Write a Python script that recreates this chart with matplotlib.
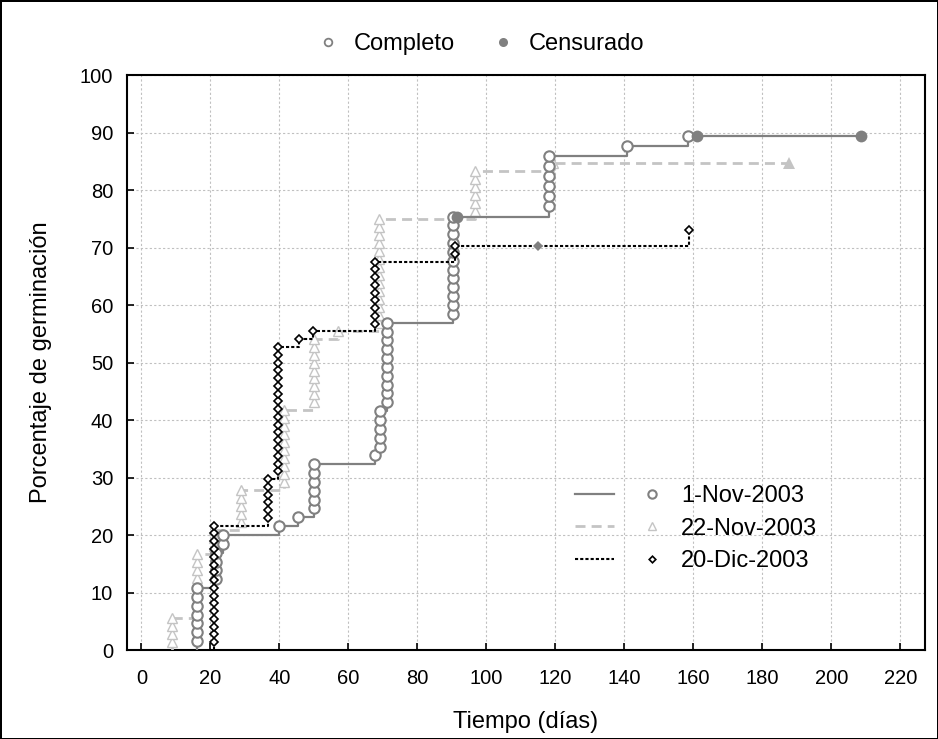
import matplotlib
matplotlib.use("Agg")
import matplotlib.pyplot as plt
from matplotlib.lines import Line2D
from matplotlib.legend_handler import HandlerTuple
import numpy as np

plt.rcParams['font.family'] = ['Liberation Sans', 'DejaVu Sans']

# germination times (days) with number of seeds at each time, censored times, seeds sown
n_nov1 = 65
nov1_t = [16, 21.5, 23.5, 40, 45.5, 50, 67.7, 69.1, 71.1, 90.2, 118.1, 140.6, 158.4]
nov1_d = [7, 4, 2, 1, 1, 6, 1, 5, 10, 12, 6, 1, 1]
nov1_cen_t = [91.4, 160.9, 208.5]
nov1_cen_c = [2, 3, 3]

n_nov22 = 72
nov22_t = [8.8, 16.2, 21, 28.8, 41.2, 49.9, 57, 68.9, 96.7, 119.3]
nov22_d = [4, 8, 3, 5, 10, 9, 1, 14, 6, 1]
nov22_cen_t = [187.6]
nov22_cen_c = [11]

n_dic20 = 74
dic20_t = [21, 36.7, 39.6, 45.7, 49.7, 67.7, 90.9, 158.6]
dic20_d = [16, 6, 17, 1, 1, 9, 2, 1]
dic20_cen_t = [114.8]
dic20_cen_c = [11]

labels = ["1-Nov-2003", "22-Nov-2003", "20-Dic-2003"]


def km(n, ev_t, ev_d, cen_t, cen_c):
    # product-limit estimate, as cumulative percentage
    ev = dict(zip(ev_t, ev_d))
    cen = dict(zip(cen_t, cen_c))
    times = sorted(set(ev_t) | set(cen_t))
    risk = n
    surv = 1.0
    step_x, step_y = [ev_t[0]], [0.0]
    mk_x, mk_y, cx, cy = [], [], [], []
    for t in times:
        d = ev.get(t, 0)
        c = cen.get(t, 0)
        if d:
            for j in range(1, d + 1):
                mk_x.append(t)
                mk_y.append(100 * (1 - surv * (1 - j / risk)))
            surv *= 1 - d / risk
        step_x.append(t)
        step_y.append(100 * (1 - surv))
        if c:
            cx.append(t)
            cy.append(100 * (1 - surv))
        risk -= d + c
    return step_x, step_y, mk_x, mk_y, cx, cy


fig = plt.figure(figsize=(9.38, 7.39), dpi=100)
fig.patch.set_edgecolor("black")
fig.patch.set_linewidth(2)
ax = fig.add_axes([0.1354, 0.1204, 0.8507, 0.7781])

styles = {
    "nov1": dict(color="#808080", ls="-", lw=1.6, marker="o", ms=7.5, mew=1.5, cms=8.5),
    "nov22": dict(color="#c4c4c4", ls=(0, (3.6, 2.2)), lw=2.0, marker="^", ms=6.5, mew=1.0, cms=8.5),
    "dic20": dict(color="black", ls=(0, (1.5, 1.0)), lw=1.5, marker="D", ms=4.2, mew=1.2, cms=5.0),
}
series = {
    "nov22": (n_nov22, nov22_t, nov22_d, nov22_cen_t, nov22_cen_c),
    "nov1": (n_nov1, nov1_t, nov1_d, nov1_cen_t, nov1_cen_c),
    "dic20": (n_dic20, dic20_t, dic20_d, dic20_cen_t, dic20_cen_c),
}
cen_color = {"nov1": "#808080", "nov22": "#c4c4c4", "dic20": "#808080"}

z = 3
for key, args in series.items():
    st = styles[key]
    sx, sy, mx, my, cx, cy = km(*args)
    ax.step(sx, sy, where="post", color=st["color"], ls=st["ls"], lw=st["lw"], zorder=z)
    ax.plot(mx, my, ls="none", marker=st["marker"], ms=st["ms"], mew=st["mew"],
            mec=st["color"], mfc="white", zorder=z + 0.5)
    ax.plot(cx, cy, ls="none", marker=st["marker"], ms=st["cms"], mew=0,
            mfc=cen_color[key], zorder=z + 0.6)
    z += 1

ax.set_xlim(-4.2, 227.1)
ax.set_ylim(0, 100)
ax.set_xticks(range(0, 221, 20))
ax.set_yticks(range(0, 101, 10))
ax.tick_params(direction="in", length=5, width=1.2, labelsize=14.5)
ax.tick_params(axis="x", pad=14)
ax.tick_params(axis="y", pad=10)
for s in ax.spines.values():
    s.set_linewidth(1.5)
ax.grid(True, color="#c0c0c0", ls=(0, (2, 2)), lw=0.8)
ax.set_axisbelow(True)
ax.set_xlabel("Tiempo (días)", fontsize=17, labelpad=16)
ax.set_ylabel("Porcentaje de germinación", fontsize=17, labelpad=20)

# series legend: line sample, marker, label
handles = []
for key in ["nov1", "nov22", "dic20"]:
    st = styles[key]
    ln = Line2D([], [], color=st["color"], ls=st["ls"], lw=st["lw"])
    mk = Line2D([], [], ls="none", marker=st["marker"], ms=st["ms"] * 0.8, mew=st["mew"],
                mec=st["color"], mfc="white")
    handles.append((ln, mk))
ax.legend(handles, labels, handler_map={tuple: HandlerTuple(ndivide=None, pad=0.75)},
          loc="upper left", bbox_to_anchor=(0.561, 0.287), frameon=False, fontsize=17,
          handlelength=4.1, handletextpad=0.4, labelspacing=0.45, borderpad=0, borderaxespad=0)

# top legend
h1 = Line2D([], [], ls="none", marker="o", ms=5.5, mew=1.3, mec="#808080", mfc="white")
h2 = Line2D([], [], ls="none", marker="o", ms=6.5, mew=0, mfc="#808080")
fig.legend([h1, h2], ["Completo", "Censurado"], loc="center", bbox_to_anchor=(0.512, 0.940),
           ncol=2, frameon=False, fontsize=17, handlelength=1.0, handletextpad=0.6,
           columnspacing=1.5)

fig.savefig("out.png", dpi=100)
